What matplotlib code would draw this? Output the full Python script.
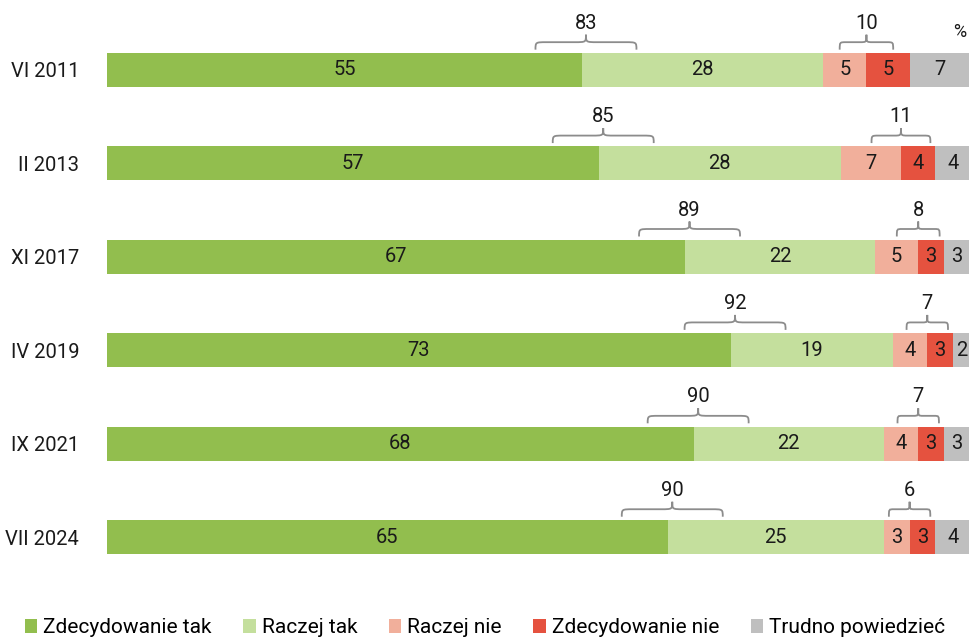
import numpy as np
import matplotlib.pyplot as plt
from matplotlib.path import Path
from matplotlib.patches import PathPatch

plt.rcParams['font.family'] = ['Roboto', 'DejaVu Sans']

# survey waves and answer shares (%)
waves = ['VI 2011', 'II 2013', 'XI 2017', 'IV 2019', 'IX 2021', 'VII 2024']
zdec_tak = [55, 57, 67, 73, 68, 65]
raczej_tak = [28, 28, 22, 19, 22, 25]
raczej_nie = [5, 7, 5, 4, 4, 3]
zdec_nie = [5, 4, 3, 3, 3, 3]
trudno = [7, 4, 3, 2, 3, 4]
total_yes = [83, 85, 89, 92, 90, 90]
total_no = [10, 11, 8, 7, 7, 6]

labels = ['Zdecydowanie tak', 'Raczej tak', 'Raczej nie', 'Zdecydowanie nie', 'Trudno powiedzieć']
colors = ['#92be4e', '#c4df9d', '#f1af9b', '#e5523f', '#bfbfbf']

fig = plt.figure(figsize=(9.7, 6.4), dpi=100)
ax = fig.add_axes([107 / 970, 1 - 580 / 640, 1 - 107 / 970, 580 / 640])

series = [zdec_tak, raczej_tak, raczej_nie, zdec_nie, trudno]
data = np.array(series, dtype=float)
# rounded shares do not always add up to 100, scale each row to the full width
scale = 100.0 / data.sum(axis=0)

y = np.arange(len(waves))
bh = 0.365
left = np.zeros(len(waves))
for vals, col, lab in zip(data, colors, labels):
    w = vals * scale
    ax.barh(y, w, left=left, height=bh, color=col, label=lab, linewidth=0)
    for yi, (l, v, raw) in enumerate(zip(left, w, vals)):
        ax.text(l + v / 2, yi, str(int(raw)), ha='center', va='center', fontsize=14.5, color='#1a1a1a')
    left = left + w


def brace(xc, width, ybot, h):
    x0, x1 = xc - width / 2, xc + width / 2
    ym = ybot - h / 2
    yt = ybot - h
    r = min(width * 0.12, 1.3)
    verts = [(x0, ybot), (x0, ym), (x0, ym), (x0 + r, ym),
             (xc - r, ym), (xc, ym), (xc, ym), (xc, yt),
             (xc, ym), (xc, ym), (xc + r, ym),
             (x1 - r, ym), (x1, ym), (x1, ym), (x1, ybot)]
    codes = [Path.MOVETO, Path.CURVE4, Path.CURVE4, Path.CURVE4,
             Path.LINETO, Path.CURVE4, Path.CURVE4, Path.CURVE4,
             Path.CURVE4, Path.CURVE4, Path.CURVE4,
             Path.LINETO, Path.CURVE4, Path.CURVE4, Path.CURVE4]
    ax.add_patch(PathPatch(Path(verts, codes), fill=False, edgecolor='#8c8c8c', lw=1.3))


for i in range(len(waves)):
    top = i - bh / 2 - 0.035
    h = 0.16
    xc = zdec_tak[i] * scale[i] + 0.5
    brace(xc, 11.7, top, h)
    ax.text(xc, top - h - 0.02, str(total_yes[i]), ha='center', va='bottom', fontsize=14.5, color='#1a1a1a')
    xn = (zdec_tak[i] + raczej_tak[i] + raczej_nie[i]) * scale[i]
    wn = max(0.62 * total_no[i], 4.8)
    brace(xn, wn, top, h)
    ax.text(xn, top - h - 0.02, str(total_no[i]), ha='center', va='bottom', fontsize=14.5, color='#1a1a1a')

ax.text(98.8, -0.41, '%', ha='center', va='center', fontsize=13, color='#1a1a1a')

ax.set_xlim(0, 100)
ax.set_ylim(5.46, -0.749)
ax.set_yticks(y)
ax.set_yticklabels(waves, fontsize=14.5, color='#1a1a1a')
ax.tick_params(axis='y', length=0, pad=20)
ax.set_xticks([])
for s in ax.spines.values():
    s.set_visible(False)

fig.legend(loc='lower center', bbox_to_anchor=(0.5, -0.025), ncol=5, frameon=False,
           fontsize=15, handlelength=0.6, handleheight=0.6, handletextpad=0.3, columnspacing=1.5)

fig.savefig('out.png', dpi=100)
